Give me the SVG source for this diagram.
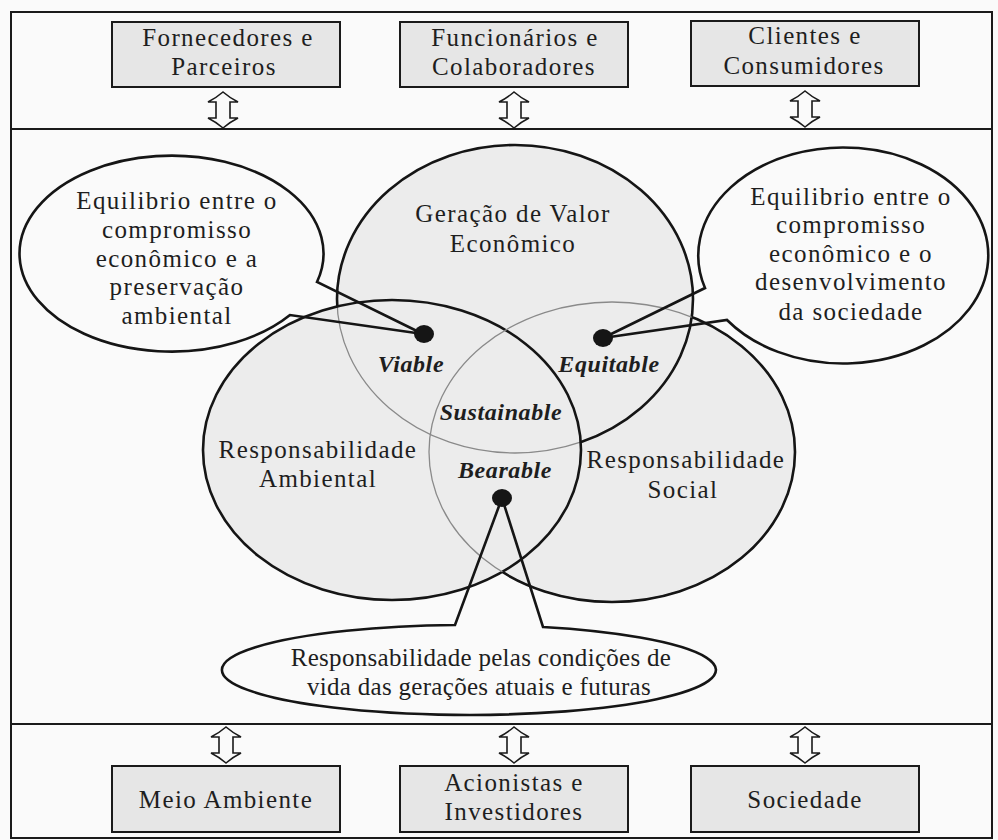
<svg xmlns="http://www.w3.org/2000/svg" xmlns:xlink="http://www.w3.org/1999/xlink" width="998" height="840" viewBox="0 0 998 840">
  <style>
    .frame { fill: none; stroke: #1a1a1a; stroke-width: 2; }
    .box { fill: #e6e6e6; stroke: #1a1a1a; stroke-width: 2; }
    .txt { font-family: "Liberation Serif", "Times New Roman", serif; font-size: 25px; fill: #1e1e1e; text-anchor: middle; letter-spacing: 1.4px; }
    .tight { letter-spacing: 0.3px; }
    .lbl { font-family: "Liberation Serif", "Times New Roman", serif; font-size: 24px; font-weight: bold; font-style: italic; fill: #1e1e1e; text-anchor: middle; letter-spacing: 0.6px; }
    .thick { fill: none; stroke: #151515; stroke-width: 2.6; }
    .thin { fill: none; stroke: #8a8a8a; stroke-width: 1.3; }
    .fillc { fill: #ececec; stroke: none; }
    .callout { fill: none; stroke: #151515; stroke-width: 2.6; stroke-linejoin: miter; }
    .dot { fill: #151515; }
    .arrow { fill: #fafafa; stroke: #1a1a1a; stroke-width: 1.6; }
  </style>
  <defs>
    <!-- hollow up/down arrow, centred on (0,0) -->
    <path id="dblArrow" d="M0,-18 Q7,-12 15,-8 L7,-8 L7,8 L15,8 Q7,12 0,18 Q-7,12 -15,8 L-7,8 L-7,-8 L-15,-8 Q-7,-12 0,-18 Z"/>
    <clipPath id="inAmb"><ellipse cx="392" cy="450" rx="189" ry="150"/></clipPath>
    <clipPath id="inEco"><ellipse cx="515" cy="299" rx="178" ry="154"/></clipPath>
    <clipPath id="outAmb"><path clip-rule="evenodd" d="M0,0H998V840H0Z M203,450 a189,150 0 1,0 378,0 a189,150 0 1,0 -378,0 Z"/></clipPath>
    <clipPath id="outEco"><path clip-rule="evenodd" d="M0,0H998V840H0Z M337,299 a178,154 0 1,0 356,0 a178,154 0 1,0 -356,0 Z"/></clipPath>
  </defs>

  <!-- page background -->
  <rect x="0" y="0" width="998" height="840" fill="#fafafa"/>

  <!-- frame with the three bands -->
  <g id="frame">
    <rect class="frame" x="11" y="12" width="981" height="826"/>
    <line class="frame" x1="11" y1="129" x2="992" y2="129"/>
    <line class="frame" x1="11" y1="724" x2="992" y2="724"/>
  </g>

  <!-- stakeholder boxes, top band -->
  <g id="fornecedores">
    <rect class="box" x="112" y="22" width="228" height="65"/>
    <text class="txt" x="228" y="46">Fornecedores e</text>
    <text class="txt" x="224" y="75">Parceiros</text>
  </g>
  <g id="funcionarios">
    <rect class="box" x="400" y="22" width="228" height="65"/>
    <text class="txt" x="515" y="46">Funcionários e</text>
    <text class="txt" x="514" y="75">Colaboradores</text>
  </g>
  <g id="clientes">
    <rect class="box" x="691" y="21" width="228" height="65"/>
    <text class="txt" x="805" y="44">Clientes e</text>
    <text class="txt" x="804" y="74">Consumidores</text>
  </g>

  <!-- stakeholder boxes, bottom band -->
  <g id="meio-ambiente">
    <rect class="box" x="112" y="766" width="228" height="66"/>
    <text class="txt" x="226" y="808">Meio Ambiente</text>
  </g>
  <g id="acionistas">
    <rect class="box" x="400" y="766" width="228" height="66"/>
    <text class="txt" x="514" y="791">Acionistas e</text>
    <text class="txt" x="514" y="820">Investidores</text>
  </g>
  <g id="sociedade">
    <rect class="box" x="691" y="766" width="228" height="66"/>
    <text class="txt" x="805" y="808">Sociedade</text>
  </g>

  <!-- three overlapping circles -->
  <g id="circle-fills">
    <ellipse class="fillc" cx="392" cy="450" rx="189" ry="150"/>
    <ellipse class="fillc" cx="612" cy="452" rx="183" ry="150"/>
    <ellipse class="fillc" cx="515" cy="299" rx="178" ry="154"/>
  </g>

  <g id="economico">
    <ellipse class="thin" cx="515" cy="299" rx="178" ry="154" clip-path="url(#inAmb)"/>
    <ellipse class="thick" cx="515" cy="299" rx="178" ry="154" clip-path="url(#outAmb)"/>
    <text class="txt" x="513" y="222">Geração de Valor</text>
    <text class="txt" x="513" y="252">Econômico</text>
  </g>

  <g id="ambiental">
    <ellipse class="thick" cx="392" cy="450" rx="189" ry="150"/>
    <text class="txt" x="318" y="458">Responsabilidade</text>
    <text class="txt" x="318" y="487">Ambiental</text>
  </g>

  <g id="social">
    <ellipse class="thin" cx="612" cy="452" rx="183" ry="150"/>
    <g clip-path="url(#outAmb)">
      <ellipse class="thick" cx="612" cy="452" rx="183" ry="150" clip-path="url(#outEco)"/>
    </g>
    <text class="txt" x="686" y="468">Responsabilidade</text>
    <text class="txt" x="683" y="498">Social</text>
  </g>

  <!-- intersection labels -->
  <g id="intersections">
    <text class="lbl" x="411" y="372">Viable</text>
    <text class="lbl" x="609" y="372">Equitable</text>
    <text class="lbl" x="501" y="420">Sustainable</text>
    <text class="lbl" x="505" y="478">Bearable</text>
  </g>

  <!-- oval callouts pointing at the intersections -->
  <g id="callout-ambiental">
    <path class="callout" d="M290,315 A152,98 0 1 1 317,282 L423,334 Z"/>
    <text class="txt" x="177" y="209">Equilibrio entre o</text>
    <text class="txt" x="177" y="238">compromisso</text>
    <text class="txt" x="177" y="267">econômico e a</text>
    <text class="txt" x="177" y="295">preservação</text>
    <text class="txt" x="177" y="324">ambiental</text>
  </g>
  <g id="callout-social">
    <path class="callout" d="M705,288 A145,108 0 1 1 727,320 L603,338 Z"/>
    <text class="txt" x="851" y="205">Equilibrio entre o</text>
    <text class="txt" x="851" y="233">compromisso</text>
    <text class="txt" x="851" y="262">econômico e o</text>
    <text class="txt" x="851" y="290">desenvolvimento</text>
    <text class="txt" x="851" y="320">da sociedade</text>
  </g>
  <g id="callout-geracoes">
    <path class="callout" d="M543,627 A247,45 0 1 1 455,625 L502,498 Z"/>
    <text class="txt tight" x="481" y="666">Responsabilidade pelas condições de</text>
    <text class="txt tight" x="479" y="695">vida das gerações atuais e futuras</text>
  </g>

  <!-- pointer dots -->
  <g id="dots">
    <ellipse class="dot" cx="424" cy="334" rx="10" ry="9"/>
    <ellipse class="dot" cx="603" cy="338" rx="10" ry="9"/>
    <ellipse class="dot" cx="502" cy="498" rx="10" ry="9"/>
  </g>

  <!-- two-way arrows linking stakeholders to the central panel -->
  <g id="connectors">
    <use href="#dblArrow" x="223" y="110" class="arrow"/>
    <use href="#dblArrow" x="514" y="110" class="arrow"/>
    <use href="#dblArrow" x="805" y="109" class="arrow"/>
    <use href="#dblArrow" x="226" y="745" class="arrow"/>
    <use href="#dblArrow" x="514" y="745" class="arrow"/>
    <use href="#dblArrow" x="805" y="745" class="arrow"/>
  </g>
</svg>
